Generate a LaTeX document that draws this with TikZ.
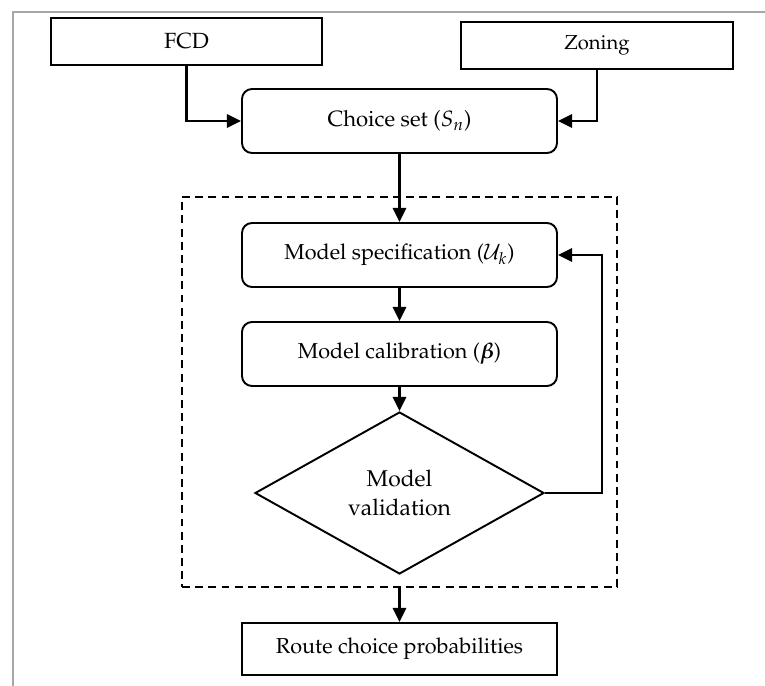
\documentclass[tikz,border=0pt]{standalone}
\usepackage[T1]{fontenc}
\usepackage{mathpazo}
\usepackage{amsmath,bm}
\usetikzlibrary{arrows.meta,shapes}

\tikzset{
  box/.style={draw,line width=1.1pt,minimum width=6.3cm,minimum height=1.28cm,align=center,font=\fontsize{12.3}{15}\selectfont},
  roundbox/.style={box,rounded corners=0.2cm},
  flow/.style={line width=1.3pt,-{Triangle[length=8pt,width=7.5pt]}},
}

\begin{document}
\begin{tikzpicture}
            \useasboundingbox (0,0) rectangle (15.3,-13.72);
            \draw[gray!70,line width=0.6pt] (0.26,-13.72)--(0.26,-0.24)--(15.3,-0.24);
            % inputs
            \node[box,minimum width=5.42cm,minimum height=0.94cm,font=\fontsize{12.5}{15}\selectfont] (fcd) at (3.73,-0.83) {FCD};
            \node[box,minimum width=5.44cm,minimum height=0.94cm,font=\fontsize{11.5}{14}\selectfont] (zoning) at (11.94,-0.91) {Zoning};
            \node[roundbox,font=\fontsize{12.6}{15}\selectfont] (choice) at (7.99,-2.42) {Choice set (\(S_n\))};
            % estimation loop
            \node[draw,dashed,line width=1pt,dash pattern=on 4.5pt off 3pt,minimum width=8.7cm,minimum height=7.8cm] (loop) at (7.99,-7.84) {};
            \node[roundbox] (spec) at (7.99,-5.1) {Model specification (\(\mathcal{U}_k\))};
            \node[roundbox] (calib) at (7.99,-7.08) {Model calibration (\(\bm{\beta}\))};
            \node[draw,diamond,line width=1.1pt,aspect=1.78,minimum width=5.78cm,minimum height=3.24cm,inner sep=0pt,align=center,font=\fontsize{13}{16}\selectfont] (valid) at (7.99,-9.86) {Model\\validation};
            \node[box,minimum height=1.04cm] (route) at (7.99,-12.98) {Route choice probabilities};
            \coordinate (back) at (12.04,-5.1);
            % connectors
            \draw[flow] (fcd.south) |- (choice.west);
            \draw[flow] (zoning.south) |- (choice.east);
            \draw[flow] (choice.south) -- (spec.north);
            \draw[flow] (spec) -- (calib);
            \draw[flow] (calib) -- (valid.north);
            \draw[flow] (valid.east) -| (back) -- (spec.east);
            \draw[flow] (loop.south) -- (route.north);
        \end{tikzpicture}
\end{document}
